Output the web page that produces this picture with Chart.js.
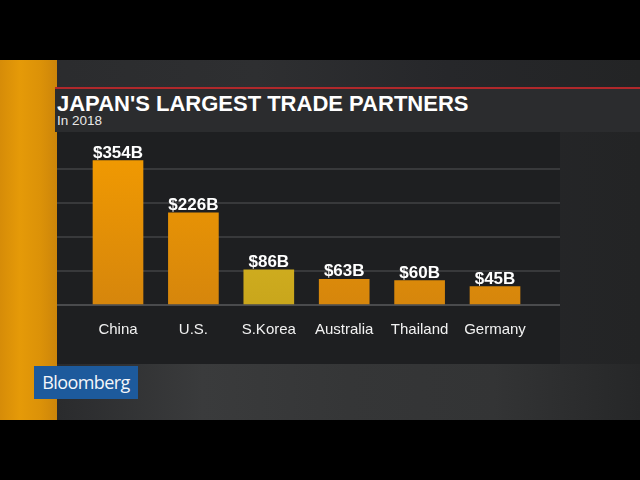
<!DOCTYPE html>
<html>
<head>
<meta charset="utf-8">
<script src="https://cdn.jsdelivr.net/npm/chart.js@4/dist/chart.umd.min.js"></script>
<style>
  html, body { margin: 0; padding: 0; background: #000; width: 640px; height: 480px; overflow: hidden; }
  #frame { position: absolute; left: 0; top: 60px; width: 640px; height: 360px;
    background: linear-gradient(to right, #2a2b2d 0%, #2e2f31 40%, #26272a 70%, #232425 100%); }
  #strip { position: absolute; left: 0; top: 60px; width: 57px; height: 360px;
    background: linear-gradient(to right, #d68c08 0%, #e59a08 35%, #dc9208 70%, #cc850a 100%); }
  #redline { position: absolute; left: 55px; top: 87px; width: 585px; height: 2px; background: #b0282b; }
  #band { position: absolute; left: 55px; top: 89px; width: 585px; height: 43px; background: #2b2c2e; }
  #title { position: absolute; left: 57px; top: 91px; color: #fff; font: bold 22px "Liberation Sans", Arial, sans-serif; white-space: nowrap; }
  #subtitle { position: absolute; left: 57px; top: 113px; color: #e8e8e8; font: 13.5px "Liberation Sans", Arial, sans-serif; white-space: nowrap; }
  #lower { position: absolute; left: 57px; top: 364px; width: 583px; height: 56px;
    background: linear-gradient(to right, #2a2b2d 0%, #3a3b3c 25%, #353637 50%, #333435 75%, #262728 100%); }
  #panel { position: absolute; left: 57px; top: 132px; width: 503px; height: 232px; background: #1e1f21; }
  #logo { position: absolute; left: 34px; top: 366px; width: 104px; height: 33px; background: #1d5a9c;
    color: #f4f6fa; font: 500 18px "Open Sans", "Noto Sans", sans-serif; line-height: 33px; text-align: center; letter-spacing: -0.6px; }
  canvas { display: block; }
</style>
</head>
<body>
<div id="frame"></div>
<div id="strip"></div>
<div id="lower"></div>
<div id="redline"></div>
<div id="band"></div>
<div id="title">JAPAN'S LARGEST TRADE PARTNERS</div>
<div id="subtitle">In 2018</div>
<div id="panel"><canvas id="c" width="503" height="232"></canvas></div>
<div id="logo">Bloomberg</div>
<script>
// ---- data ----
const categories = ["China", "U.S.", "S.Korea", "Australia", "Thailand", "Germany"];
const tradeValues = [354, 226, 86, 63, 60, 45];
const valueLabels = ["$354B", "$226B", "$86B", "$63B", "$60B", "$45B"];
const highlighted = ["S.Korea"];

// ---- style ----
const Y_MAX = 417;
const Y_STEP = 83.4;
const orangeTop = "#f49c00", orangeBottom = "#d6860c";
const yellowTop = "#e0c026", yellowBottom = "#c9a61c";

function barFill(ctx) {
  const chart = ctx.chart;
  const ca = chart.chartArea;
  const isHi = highlighted.includes(categories[ctx.dataIndex]);
  if (!ca) return isHi ? yellowTop : orangeTop;
  const g = chart.ctx.createLinearGradient(0, ca.top, 0, ca.bottom);
  g.addColorStop(0, isHi ? yellowTop : orangeTop);
  g.addColorStop(1, isHi ? yellowBottom : orangeBottom);
  return g;
}

const valueLabelPlugin = {
  id: "valueLabels",
  afterDatasetsDraw(chart) {
    const c = chart.ctx;
    const meta = chart.getDatasetMeta(0);
    c.save();
    c.fillStyle = "#ffffff";
    c.font = 'bold 17px "Liberation Sans", Arial, sans-serif';
    c.textAlign = "center";
    c.textBaseline = "alphabetic";
    meta.data.forEach((bar, i) => {
      c.fillText(valueLabels[i], bar.x, bar.y - 3);
    });
    c.restore();
  }
};

new Chart(document.getElementById("c"), {
  type: "bar",
  data: {
    datasets: [{
      data: tradeValues.map((v, i) => ({ x: i, y: v })),
      backgroundColor: barFill,
      borderWidth: 0,
      barThickness: 50
    }]
  },
  options: {
    responsive: false,
    animation: false,
    layout: { padding: { top: 3, left: 0, right: 0, bottom: 0 } },
    plugins: { legend: { display: false }, tooltip: { enabled: false } },
    scales: {
      x: {
        type: "linear",
        offset: false,
        min: -0.809,
        max: 5.862,
        grid: { display: false, drawTicks: false, offset: false },
        border: { display: true, color: "#4a4b4d", width: 2 },
        afterBuildTicks: (axis) => { axis.ticks = categories.map((c, i) => ({ value: i })); },
        afterFit: (axis) => { axis.height = 59; },
        ticks: {
          autoSkip: false,
          maxRotation: 0,
          padding: 16,
          color: "#f2f2f2",
          font: { family: '"Liberation Sans", Arial, sans-serif', size: 15 },
          callback: (v) => categories[v]
        }
      },
      y: {
        min: 0,
        max: Y_MAX,
        afterFit: (axis) => { axis.width = 0; },
        ticks: { display: false, stepSize: Y_STEP },
        border: { display: false },
        grid: {
          drawTicks: false,
          lineWidth: 2,
          color: (ctx) => (ctx.tick && (ctx.tick.value <= 0 || ctx.tick.value >= Y_MAX - 1)) ? "rgba(0,0,0,0)" : "#38393b"
        }
      }
    }
  },
  plugins: [valueLabelPlugin]
});
</script>
</body>
</html>
